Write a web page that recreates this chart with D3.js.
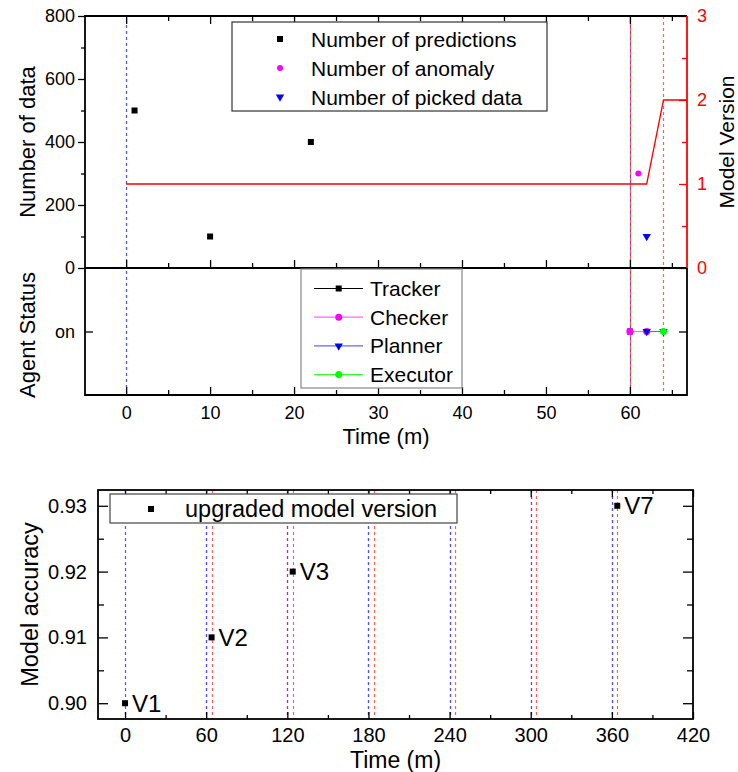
<!DOCTYPE html>
<html>
<head>
<meta charset="utf-8">
<script src="https://cdn.jsdelivr.net/npm/d3@7"></script>
<style>
  html, body { margin: 0; padding: 0; background: #fff; }
  svg { display: block; font-family: "Liberation Sans", Arial, sans-serif; }
</style>
</head>
<body>
<svg id="chart" width="738" height="772"></svg>
<script>
// ---- Top panel: data counts and model version over time ----
const predTime = [1, 10, 22];
const predCount = [500, 100, 400];
const anomTime = [61];
const anomCount = [300];
const pickTime = [62];
const pickCount = [100];
const versionTime = [0, 62, 64, 70];
const versionValue = [1, 1, 2, 2];

// ---- Middle panel: agent status ----
const trackerTime = [60];
const checkerTime = [60, 62];
const plannerTime = [62, 64];
const executorTime = [64];

// Event markers (minutes)
const topBlueLines = [0, 60];
const topRedLines = [60, 64];

// ---- Bottom panel: accuracy of upgraded models ----
const accTime = [0, 64, 124, 364];
const accValue = [0.90, 0.91, 0.92, 0.93];
const accLabel = ["V1", "V2", "V3", "V7"];
const bottomBlueLines = [0, 60, 120, 180, 240, 300, 360];
const bottomRedLines = [60, 64, 120, 124, 180, 184, 240, 244, 300, 304, 360, 364];

// Tick labels
const topCountTicks = [0, 200, 400, 600, 800];
const versionTicks = [0, 1, 2, 3];
const timeTicksTop = [0, 10, 20, 30, 40, 50, 60];
const accTicks = [0.90, 0.91, 0.92, 0.93];
const timeTicksBottom = [0, 60, 120, 180, 240, 300, 360, 420];

const svg = d3.select("#chart");
const FONT = "'Liberation Sans', Arial, sans-serif";
const RED_DASH = "#ff5c5c", BLUE_DASH = "#4f4fff";

// Layout
const L = 85, R = 687, T = 16, MID = 268, B = 395;
const x = d3.scaleLinear().domain([-4.9, 66.8]).range([L, R]);
const yN = d3.scaleLinear().domain([0, 800]).range([MID, T]);
const yV = d3.scaleLinear().domain([0, 3]).range([MID, T]);
const yS = d3.scaleLinear().domain([0, 2]).range([B, MID]);
const crisp = v => Math.round(v) + 0.5;

const defs = svg.append("defs");
defs.append("clipPath").attr("id", "clipTop")
  .append("rect").attr("x", L).attr("y", T).attr("width", R - L).attr("height", MID - T);

function styleAxis(g, color) {
  g.select(".domain").remove();
  g.selectAll(".tick line").attr("stroke", color || "#000").attr("stroke-width", 1.3);
  g.selectAll(".tick text").attr("fill", color || "#000").attr("font-family", FONT);
}

function vline(px, y1, y2, color, offset) {
  svg.append("line").attr("x1", crisp(px)).attr("x2", crisp(px)).attr("y1", y1).attr("y2", y2)
    .attr("stroke", color).attr("stroke-width", 1.2).attr("stroke-dasharray", "3,3")
    .attr("stroke-dashoffset", offset || 0);
}

// dashed event lines, top two panels
topRedLines.forEach(t => vline(x(t), T, B, RED_DASH, 0));
topBlueLines.forEach(t => vline(x(t), T, B, BLUE_DASH, 3));

// Top panel axes
const gl = svg.append("g").attr("transform", `translate(${L},0)`)
  .call(d3.axisLeft(yN).tickValues(topCountTicks).tickSize(7).tickPadding(3).tickSizeOuter(0));
styleAxis(gl); gl.selectAll("text").attr("font-size", 18);
const glm = svg.append("g").attr("transform", `translate(${L},0)`)
  .call(d3.axisLeft(yN).tickValues([100, 300, 500, 700]).tickSize(4).tickFormat("").tickSizeOuter(0));
styleAxis(glm);

const gtTop = svg.append("g").attr("transform", `translate(0,${T})`)
  .call(d3.axisTop(x).tickValues(timeTicksTop).tickSize(-8).tickFormat("").tickSizeOuter(0));
styleAxis(gtTop);
const gtTopM = svg.append("g").attr("transform", `translate(0,${T})`)
  .call(d3.axisTop(x).tickValues([5, 15, 25, 35, 45, 55, 65]).tickSize(-5).tickFormat("").tickSizeOuter(0));
styleAxis(gtTopM);

const gmid = svg.append("g").attr("transform", `translate(0,${MID})`)
  .call(d3.axisBottom(x).tickValues(timeTicksTop).tickSize(-8).tickFormat("").tickSizeOuter(0));
styleAxis(gmid);
const gmidM = svg.append("g").attr("transform", `translate(0,${MID})`)
  .call(d3.axisBottom(x).tickValues([5, 15, 25, 35, 45, 55, 65]).tickSize(-5).tickFormat("").tickSizeOuter(0));
styleAxis(gmidM);

// Right (red) axis: model version
const gr = svg.append("g").attr("transform", `translate(${R},0)`)
  .call(d3.axisRight(yV).tickValues(versionTicks).tickSize(-8).tickPadding(10).tickFormat(d3.format("d")).tickSizeOuter(0));
styleAxis(gr, "#ff0000"); gr.selectAll("text").attr("font-size", 18);
const grm = svg.append("g").attr("transform", `translate(${R},0)`)
  .call(d3.axisRight(yV).tickValues([0.5, 1.5, 2.5]).tickSize(-5).tickFormat("").tickSizeOuter(0));
styleAxis(grm, "#ff0000");

// Agent panel axes
const gb = svg.append("g").attr("transform", `translate(0,${B})`)
  .call(d3.axisBottom(x).tickValues(timeTicksTop).tickSize(-8).tickPadding(11).tickSizeOuter(0));
styleAxis(gb); gb.selectAll("text").attr("font-size", 18);
const gbm = svg.append("g").attr("transform", `translate(0,${B})`)
  .call(d3.axisBottom(x).tickValues([5, 15, 25, 35, 45, 55, 65]).tickSize(-5).tickFormat("").tickSizeOuter(0));
styleAxis(gbm);
const gsl = svg.append("g").attr("transform", `translate(${L},0)`)
  .call(d3.axisLeft(yS).tickValues([1]).tickSize(-8).tickPadding(10).tickFormat(() => "on").tickSizeOuter(0));
styleAxis(gsl); gsl.selectAll("text").attr("font-size", 18);
const gsr = svg.append("g").attr("transform", `translate(${R},0)`)
  .call(d3.axisRight(yS).tickValues([1]).tickSize(-8).tickFormat("").tickSizeOuter(0));
styleAxis(gsr);

// Frames
svg.append("path")
  .attr("d", `M${R},${T}H${L}V${B}H${R}V${MID}`)
  .attr("fill", "none").attr("stroke", "#000").attr("stroke-width", 1.8);
svg.append("line").attr("x1", L).attr("x2", R).attr("y1", MID).attr("y2", MID)
  .attr("stroke", "#000").attr("stroke-width", 1.8);
svg.append("line").attr("x1", R).attr("x2", R).attr("y1", T).attr("y2", MID)
  .attr("stroke", "#ff0000").attr("stroke-width", 1.8);

// Model version line
const vLine = d3.line().x(d => x(d[0])).y(d => yV(d[1]));
svg.append("path").attr("clip-path", "url(#clipTop)")
  .datum(d3.zip(versionTime, versionValue))
  .attr("d", vLine).attr("fill", "none").attr("stroke", "#ff0000").attr("stroke-width", 1.3);

// Scatter marks
svg.append("g").selectAll("rect").data(d3.zip(predTime, predCount)).join("rect")
  .attr("x", d => x(d[0]) - 3).attr("y", d => yN(d[1]) - 3)
  .attr("width", 6).attr("height", 6).attr("fill", "#000");
svg.append("g").selectAll("circle").data(d3.zip(anomTime, anomCount)).join("circle")
  .attr("cx", d => x(d[0])).attr("cy", d => yN(d[1])).attr("r", 3).attr("fill", "#ff00ff");
const tri = d3.symbol().type(d3.symbolTriangle).size(30);
svg.append("g").selectAll("path").data(d3.zip(pickTime, pickCount)).join("path")
  .attr("transform", d => `translate(${x(d[0])},${yN(d[1])}) rotate(180)`)
  .attr("d", tri).attr("fill", "#0000ff");

// Top legend
const lg = svg.append("g");
lg.append("rect").attr("x", 232).attr("y", 22).attr("width", 315).attr("height", 89)
  .attr("fill", "#fff").attr("stroke", "#333").attr("stroke-width", 1.2);
const topLegend = [
  { label: "Number of predictions", kind: "square", color: "#000" },
  { label: "Number of anomaly", kind: "circle", color: "#ff00ff" },
  { label: "Number of picked data", kind: "tri", color: "#0000ff" }
];
topLegend.forEach((e, i) => {
  const cy = 39 + i * 29;
  if (e.kind === "square") lg.append("rect").attr("x", 277).attr("y", cy - 3).attr("width", 6).attr("height", 6).attr("fill", e.color);
  if (e.kind === "circle") lg.append("circle").attr("cx", 280).attr("cy", cy).attr("r", 3).attr("fill", e.color);
  if (e.kind === "tri") lg.append("path").attr("transform", `translate(280,${cy}) rotate(180)`).attr("d", tri).attr("fill", e.color);
  lg.append("text").attr("x", 311).attr("y", cy + 7.5).attr("font-size", 21).attr("font-family", FONT)
    .attr("fill", "#000").text(e.label);
});

// Agent status series
const onY = yS(1);
const agents = [
  { name: "Tracker", times: trackerTime, color: "#000000", line: "#000000", kind: "square" },
  { name: "Checker", times: checkerTime, color: "#ff00ff", line: "#ff66ff", kind: "circle" },
  { name: "Planner", times: plannerTime, color: "#0000ff", line: "#6666ff", kind: "tri" },
  { name: "Executor", times: executorTime, color: "#00ff00", line: "#33ff33", kind: "circle" }
];
function marker(g, kind, cx, cy, color) {
  if (kind === "square") g.append("rect").attr("x", cx - 3).attr("y", cy - 3).attr("width", 6).attr("height", 6).attr("fill", color);
  if (kind === "circle") g.append("circle").attr("cx", cx).attr("cy", cy).attr("r", 3.5).attr("fill", color);
  if (kind === "tri") g.append("path").attr("transform", `translate(${cx},${cy}) rotate(180)`).attr("d", tri).attr("fill", color);
}
const ag = svg.append("g");
agents.forEach(a => {
  if (a.times.length > 1) {
    ag.append("path").datum(a.times)
      .attr("d", d3.line().x(t => x(t)).y(() => onY))
      .attr("fill", "none").attr("stroke", a.line).attr("stroke-width", 1.2);
  }
  a.times.forEach(t => marker(ag, a.kind, x(t), onY, a.color));
});

// Agent legend
const al = svg.append("g");
al.append("rect").attr("x", 301).attr("y", 269).attr("width", 161).attr("height", 119)
  .attr("fill", "#fff").attr("stroke", "#888").attr("stroke-width", 1.2);
agents.forEach((a, i) => {
  const cy = 288.5 + i * 28.7;
  al.append("line").attr("x1", 314).attr("x2", 363).attr("y1", cy).attr("y2", cy)
    .attr("stroke", a.line).attr("stroke-width", 1.2);
  marker(al, a.kind, 338.7, cy, a.color);
  al.append("text").attr("x", 370).attr("y", cy + 7.5).attr("font-size", 21).attr("font-family", FONT)
    .attr("fill", "#000").text(a.name);
});

// Axis titles (top)
svg.append("text").attr("transform", `translate(35,142) rotate(-90)`)
  .attr("text-anchor", "middle").attr("font-size", 22).attr("font-family", FONT).text("Number of data");
svg.append("text").attr("transform", `translate(35,335) rotate(-90)`)
  .attr("text-anchor", "middle").attr("font-size", 22).attr("font-family", FONT).text("Agent Status");
svg.append("text").attr("transform", `translate(734,142) rotate(-90)`)
  .attr("text-anchor", "middle").attr("font-size", 21).attr("font-family", FONT).text("Model Version");
svg.append("text").attr("x", (L + R) / 2).attr("y", 444)
  .attr("text-anchor", "middle").attr("font-size", 22).attr("font-family", FONT).text("Time (m)");

// ---- Bottom panel ----
const BL = 98, BR = 693, BT = 490, BB = 719;
const x2 = d3.scaleLinear().domain([-20, 420]).range([BL, BR]);
const y2 = d3.scaleLinear().domain([0.8976, 0.9324]).range([BB, BT]);

bottomRedLines.forEach(t => vline(x2(t), BT, BB, RED_DASH, 0));
bottomBlueLines.forEach(t => vline(x2(t), BT, BB, BLUE_DASH, 0));

const b1 = svg.append("g").attr("transform", `translate(${BL},0)`)
  .call(d3.axisLeft(y2).tickValues(accTicks).tickSize(-10).tickPadding(11).tickFormat(d3.format(".2f")).tickSizeOuter(0));
styleAxis(b1); b1.selectAll("text").attr("font-size", 20);
const b1m = svg.append("g").attr("transform", `translate(${BL},0)`)
  .call(d3.axisLeft(y2).tickValues([0.905, 0.915, 0.925]).tickSize(-6).tickFormat("").tickSizeOuter(0));
styleAxis(b1m);
const b2 = svg.append("g").attr("transform", `translate(${BR},0)`)
  .call(d3.axisRight(y2).tickValues(accTicks).tickSize(-10).tickFormat("").tickSizeOuter(0));
styleAxis(b2);
const b2m = svg.append("g").attr("transform", `translate(${BR},0)`)
  .call(d3.axisRight(y2).tickValues([0.905, 0.915, 0.925]).tickSize(-6).tickFormat("").tickSizeOuter(0));
styleAxis(b2m);
const b3 = svg.append("g").attr("transform", `translate(0,${BB})`)
  .call(d3.axisBottom(x2).tickValues(timeTicksBottom).tickSize(-7).tickPadding(9).tickSizeOuter(0));
styleAxis(b3); b3.selectAll("text").attr("font-size", 20);
const b3m = svg.append("g").attr("transform", `translate(0,${BB})`)
  .call(d3.axisBottom(x2).tickValues([30, 90, 150, 210, 270, 330, 390]).tickSize(-4).tickFormat("").tickSizeOuter(0));
styleAxis(b3m);
const b4 = svg.append("g").attr("transform", `translate(0,${BT})`)
  .call(d3.axisTop(x2).tickValues(timeTicksBottom).tickSize(-7).tickFormat("").tickSizeOuter(0));
styleAxis(b4);
const b4m = svg.append("g").attr("transform", `translate(0,${BT})`)
  .call(d3.axisTop(x2).tickValues([30, 90, 150, 210, 270, 330, 390]).tickSize(-4).tickFormat("").tickSizeOuter(0));
styleAxis(b4m);

svg.append("rect").attr("x", BL).attr("y", BT).attr("width", BR - BL).attr("height", BB - BT)
  .attr("fill", "none").attr("stroke", "#000").attr("stroke-width", 1.8);

// Bottom legend
svg.append("rect").attr("x", 110).attr("y", 494).attr("width", 347).attr("height", 29)
  .attr("fill", "#fff").attr("stroke", "#444").attr("stroke-width", 1.2);
svg.append("rect").attr("x", 148).attr("y", 506).attr("width", 6).attr("height", 6).attr("fill", "#000");
svg.append("text").attr("x", 185).attr("y", 517).attr("font-size", 23.5).attr("font-family", FONT)
  .text("upgraded model version");

// Accuracy points and version labels
const pts = svg.append("g");
d3.zip(accTime, accValue, accLabel).forEach(([t, v, lab]) => {
  pts.append("rect").attr("x", x2(t) - 3).attr("y", y2(v) - 3).attr("width", 6).attr("height", 6).attr("fill", "#000");
  pts.append("text").attr("x", x2(t) + 7).attr("y", y2(v) + 8.5).attr("font-size", 24).attr("font-family", FONT).text(lab);
});

svg.append("text").attr("transform", `translate(38,${(BT + BB) / 2}) rotate(-90)`)
  .attr("text-anchor", "middle").attr("font-size", 23.5).attr("font-family", FONT).text("Model accuracy");
svg.append("text").attr("x", (BL + BR) / 2).attr("y", 768)
  .attr("text-anchor", "middle").attr("font-size", 23).attr("font-family", FONT).text("Time (m)");
</script>
</body>
</html>
